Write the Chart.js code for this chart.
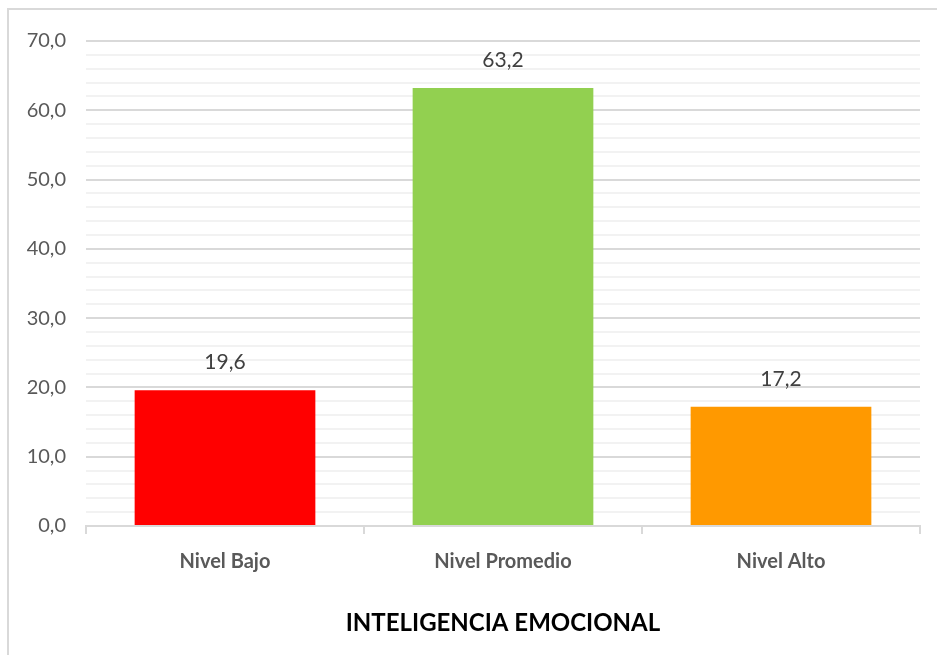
<!DOCTYPE html>
<html>
<head>
<meta charset="utf-8">
<script src="https://cdn.jsdelivr.net/npm/chart.js@4/dist/chart.umd.min.js"></script>
<style>
  html, body { margin: 0; padding: 0; background: #fff; }
  #wrap { position: relative; width: 937px; height: 655px; }
  #frame { position: absolute; left: 7px; top: 8px; width: 1000px; height: 1000px;
           border-left: 2px solid #d9d9d9; border-top: 2px solid #d9d9d9; }
  canvas { position: absolute; left: 0; top: 0; }
</style>
</head>
<body>
<div id="wrap">
  <div id="frame"></div>
  <canvas id="chart" width="937" height="655"></canvas>
</div>
<script>
// chart values
var categories = ['Nivel Bajo', 'Nivel Promedio', 'Nivel Alto'];
var percentages = [19.6, 63.2, 17.2];
var barColors = ['#ff0000', '#92d050', '#ff9900'];
var axisTitle = 'INTELIGENCIA EMOCIONAL';

var fmt = function (v) {
  return v.toFixed(1).replace('.', ',');
};

// labels over the bars
var valueLabels = {
  id: 'valueLabels',
  afterDatasetsDraw: function (chart) {
    let ctx = chart.ctx;
    let meta = chart.getDatasetMeta(0);
    ctx.save();
    ctx.font = '21px Lato';
    ctx.fillStyle = '#404040';
    ctx.textAlign = 'center';
    ctx.textBaseline = 'middle';
    meta.data.forEach((bar, i) => {
      ctx.fillText(fmt(percentages[i]), bar.x, bar.y - 28);
    });
    ctx.restore();
  }
};

var config = {
  type: 'bar',
  data: {
    labels: categories,
    datasets: [{
      data: percentages,
      backgroundColor: barColors,
      barPercentage: 0.65,
      categoryPercentage: 1.0
    }]
  },
  options: {
    responsive: false,
    animation: false,
    layout: { padding: { left: 0, right: 17, top: 41, bottom: 13 } },
    plugins: {
      legend: { display: false },
      tooltip: { enabled: false }
    },
    scales: {
      x: {
        offset: true,
        grid: {
          offset: true,
          drawOnChartArea: false,
          color: '#d9d9d9',
          lineWidth: 2,
          tickLength: 8
        },
        border: { color: '#d9d9d9', width: 2 },
        ticks: {
          color: '#595959',
          font: { family: 'Lato', size: 20, weight: 'bold' },
          padding: 16
        },
        title: {
          display: true,
          text: axisTitle,
          color: '#000000',
          font: { family: 'Lato', size: 24, weight: 'bold' },
          padding: { top: 27 }
        },
        afterFit: function (s) { s.height = 116; }
      },
      y: {
        min: 0,
        max: 70,
        ticks: {
          stepSize: 2,
          autoSkip: false,
          color: '#595959',
          font: { family: 'Lato', size: 20 },
          padding: 20,
          callback: function (v) { return v % 10 === 0 ? fmt(v) : ''; }
        },
        grid: {
          drawTicks: false,
          lineWidth: 2,
          color: function (c) { return c.tick && c.tick.value % 10 === 0 ? '#d9d9d9' : '#f2f2f2'; }
        },
        border: { display: false },
        afterFit: function (s) { s.width = 86; }
      }
    }
  },
  plugins: [valueLabels]
};

let ctx = document.getElementById('chart').getContext('2d');
let chart = new Chart(ctx, config);
</script>
</body>
</html>
